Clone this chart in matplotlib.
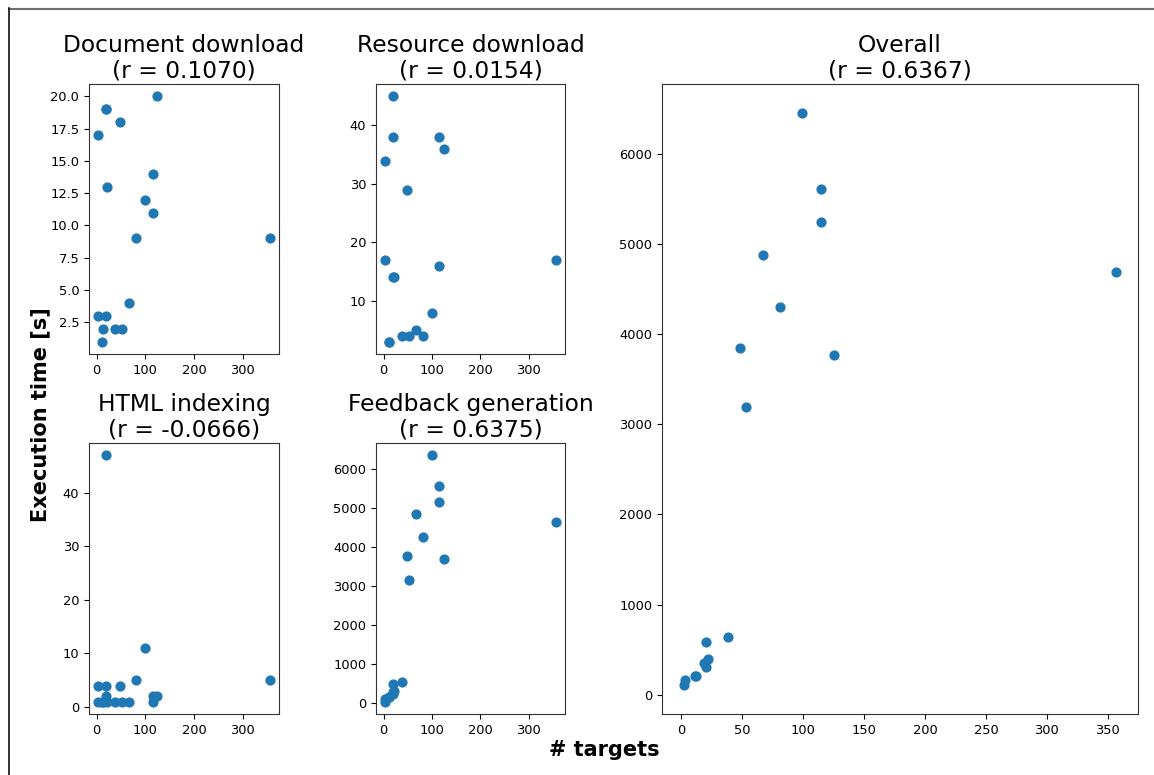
import matplotlib
matplotlib.use("Agg")
import matplotlib.pyplot as plt
from matplotlib.lines import Line2D

# ---- data ----
targets = [2, 3, 11, 12, 19, 20, 20, 22, 38, 48, 53, 67, 81, 99, 115, 115, 125, 357]
doc_download = [17, 3, 1, 2, 19, 19, 3, 13, 2, 18, 2, 4, 9, 12, 14, 11, 20, 9]
res_download = [34, 17, 3, 3, 45, 38, 14, 14, 4, 29, 4, 5, 4, 8, 38, 16, 36, 17]
html_indexing = [4, 1, 1, 1, 47, 4, 2, 1, 1, 4, 1, 1, 5, 11, 2, 1, 2, 5]
feedback_gen = [45, 120, 160, 170, 290, 488, 250, 330, 538, 3778, 3160, 4846, 4248, 6351, 5564, 5162, 3692, 4640]
overall = [106, 162, 210, 210, 354, 590, 313, 394, 642, 3845, 3195, 4877, 4302, 6453, 5602, 5240, 3763, 4686]

titles = ["Document download", "Resource download", "HTML indexing", "Feedback generation", "Overall"]
r_values = ["0.1070", "0.0154", "-0.0666", "0.6375", "0.6367"]
xlabel = "# targets"
ylabel = "Execution time [s]"

W, H = 1154, 775
fig = plt.figure(figsize=(W / 100, H / 100), dpi=100)

def px_axes(left, top, right, bottom):
    return fig.add_axes([left / W, 1 - bottom / H, (right - left) / W, (bottom - top) / H])

boxes = [
    (89, 84, 279, 354),
    (376, 84, 565, 354),
    (89, 443, 279, 714),
    (376, 443, 565, 714),
    (662, 84, 1138, 714),
]
series = [doc_download, res_download, html_indexing, feedback_gen, overall]

color = "#1f77b4"
for i, (box, ys) in enumerate(zip(boxes, series)):
    ax = px_axes(*box)
    ax.scatter(targets, ys, s=40, color=color, zorder=3)
    ax.set_title(f"{titles[i]}\n(r = {r_values[i]})", fontsize=16.8, linespacing=1.1, pad=5)
    ax.tick_params(labelsize=9.4)
    if i < 4:
        ax.set_xticks([0, 100, 200, 300])
    else:
        ax.set_xticks([0, 50, 100, 150, 200, 250, 300, 350])
    for sp in ax.spines.values():
        sp.set_color("#333333")

fig.text(604 / W, 1 - 750 / H, xlabel, ha="center", va="center", fontsize=15, fontweight="bold")
fig.text(40 / W, 1 - 415 / H, ylabel, ha="center", va="center", rotation=90, fontsize=15, fontweight="bold")

# image border (top and left edges visible)
fig.add_artist(Line2D([9 / W, 1.0], [1 - 8.5 / H, 1 - 8.5 / H], transform=fig.transFigure, color="#6e6e6e", lw=1.5))
fig.add_artist(Line2D([9.3 / W, 9.3 / W], [0.0, 1 - 8 / H], transform=fig.transFigure, color="#111111", lw=1.2))

fig.savefig("out.png", dpi=100)
